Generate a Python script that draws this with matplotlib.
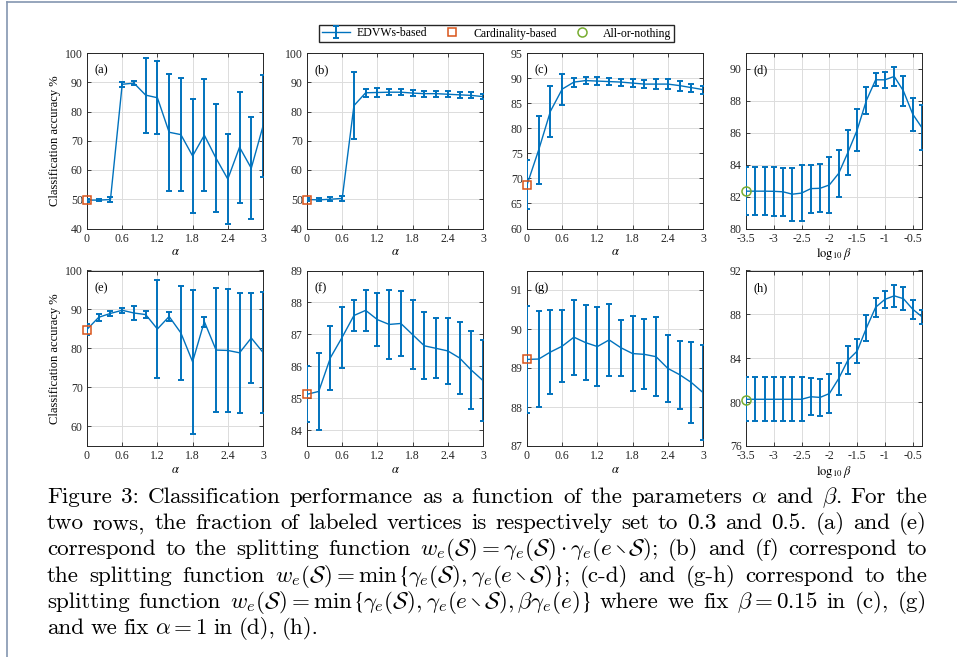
import matplotlib
matplotlib.use("Agg")
import matplotlib.pyplot as plt
from matplotlib.lines import Line2D

plt.rcParams["font.family"] = "Liberation Serif"
plt.rcParams["mathtext.fontset"] = "stix"

W, H = 957, 657
BLUE = "#0072BD"
ORANGE = "#D95319"
GREEN = "#77AC30"

alpha = [0.0, 0.2, 0.4, 0.6, 0.8, 1.0, 1.2, 1.4, 1.6, 1.8, 2.0, 2.2, 2.4, 2.6, 2.8, 3.0]
log_beta = [-3.5, -3.333, -3.167, -3.0, -2.833, -2.667, -2.5, -2.333, -2.167, -2.0,
            -1.833, -1.667, -1.5, -1.333, -1.167, -1.0, -0.833, -0.667, -0.5, -0.333]

# row 1 (fraction 0.3)
a_mean = [49.7, 49.7, 49.9, 89.3, 89.7, 85.6, 84.7, 72.9, 72.1, 64.8, 71.9, 64.0, 56.9, 67.8, 60.6, 75.0]
a_err = [0.5, 0.3, 0.7, 0.8, 0.7, 12.8, 12.4, 20.0, 19.4, 19.5, 19.2, 18.5, 15.3, 19.0, 17.5, 17.5]
b_mean = [49.9, 49.8, 50.0, 50.3, 82.0, 86.4, 86.5, 86.6, 86.6, 86.3, 86.1, 86.1, 85.9, 85.7, 85.5, 85.1]
b_err = [0.5, 0.5, 0.6, 0.9, 11.5, 1.3, 1.4, 1.0, 1.0, 0.9, 1.0, 1.0, 1.0, 1.1, 1.0, 0.9]
c_mean = [68.7, 75.7, 83.4, 87.8, 89.2, 89.5, 89.4, 89.3, 89.2, 89.0, 88.8, 88.8, 88.8, 88.5, 88.1, 87.7]
c_err = [4.9, 6.8, 5.1, 3.1, 0.9, 0.7, 0.8, 0.7, 0.7, 0.8, 0.8, 1.0, 1.0, 1.0, 0.8, 0.8]
d_mean = [82.34, 82.34, 82.34, 82.33, 82.3, 82.15, 82.22, 82.5, 82.52, 82.73,
          83.45, 84.76, 86.17, 88.03, 89.32, 89.32, 89.53, 88.62, 87.17, 86.31]
d_err = [1.5, 1.5, 1.5, 1.55, 1.52, 1.65, 1.73, 1.5, 1.5, 1.74,
         1.5, 1.4, 1.29, 0.85, 0.4, 0.5, 0.57, 0.95, 1.03, 1.42]

# row 2 (fraction 0.5)
e_mean = [84.9, 88.0, 89.0, 89.8, 89.1, 88.7, 85.0, 88.2, 84.0, 76.6, 86.9, 79.6, 79.5, 78.9, 82.7, 79.0]
e_err = [1.4, 0.9, 0.55, 0.65, 1.85, 1.0, 12.45, 1.1, 12.1, 18.5, 1.3, 15.8, 15.8, 15.4, 11.6, 15.5]
f_mean = [85.12, 85.21, 86.27, 86.91, 87.59, 87.75, 87.46, 87.31, 87.34, 86.99, 86.64, 86.56, 86.48, 86.26, 85.88, 85.55]
f_err = [0.88, 1.22, 1.0, 0.95, 0.5, 0.65, 0.82, 1.07, 1.03, 1.07, 1.05, 0.94, 1.04, 1.13, 1.23, 1.28]
g_mean = [89.22, 89.23, 89.41, 89.56, 89.79, 89.65, 89.55, 89.72, 89.52, 89.37, 89.35, 89.29, 88.99, 88.83, 88.63, 88.37]
g_err = [1.38, 1.24, 1.07, 0.92, 0.96, 0.97, 1.01, 0.92, 0.72, 0.97, 0.9, 1.02, 0.86, 0.87, 1.04, 1.22]
h_mean = [80.26, 80.26, 80.26, 80.26, 80.26, 80.26, 80.26, 80.49, 80.43, 80.78,
          82.14, 83.82, 84.65, 86.76, 88.65, 89.37, 89.69, 89.43, 88.47, 87.78]
h_err = [2.01, 2.01, 2.01, 2.01, 2.01, 2.01, 2.01, 1.69, 1.66, 1.8,
         1.45, 1.27, 1.1, 1.19, 0.88, 0.78, 1.0, 1.05, 0.85, 0.66]

card_a, card_b, card_c = 49.7, 49.9, 68.6
card_e, card_f, card_g = 84.8, 85.12, 89.22
aon_d, aon_h = 82.33, 80.23

alpha_ticks = [0, 0.6, 1.2, 1.8, 2.4, 3]
alpha_ticklabels = ["0", "0.6", "1.2", "1.8", "2.4", "3"]
beta_ticks = [-3.5, -3, -2.5, -2, -1.5, -1, -0.5]
beta_ticklabels = ["-3.5", "-3", "-2.5", "-2", "-1.5", "-1", "-0.5"]

fig = plt.figure(figsize=(W / 100, H / 100), dpi=100)
fig.patch.set_facecolor("white")

col_left = [87, 307, 527, 746]
row_top = [53, 270.5]
AW, AH = 176, 175.5


def px_axes(l, t):
    return fig.add_axes([l / W, 1 - (t + AH) / H, AW / W, AH / H])


panels = [
    ("(a)", alpha, a_mean, a_err, (40, 100), [40, 50, 60, 70, 80, 90, 100], "card", card_a),
    ("(b)", alpha, b_mean, b_err, (40, 100), [40, 50, 60, 70, 80, 90, 100], "card", card_b),
    ("(c)", alpha, c_mean, c_err, (60, 95), [60, 65, 70, 75, 80, 85, 90, 95], "card", card_c),
    ("(d)", log_beta, d_mean, d_err, (80, 91), [80, 82, 84, 86, 88, 90], "aon", aon_d),
    ("(e)", alpha, e_mean, e_err, (55, 100), [60, 70, 80, 90, 100], "card", card_e),
    ("(f)", alpha, f_mean, f_err, (83.5, 89), [84, 85, 86, 87, 88, 89], "card", card_f),
    ("(g)", alpha, g_mean, g_err, (87, 91.5), [87, 88, 89, 90, 91], "card", card_g),
    ("(h)", log_beta, h_mean, h_err, (76, 92), [76, 80, 84, 88, 92], "aon", aon_h),
]

handles = {}
for i, (lab, xs, ys, es, ylim, yticks, kind, ref) in enumerate(panels):
    ax = px_axes(col_left[i % 4], row_top[i // 4])
    eb = ax.errorbar(xs, ys, yerr=es, color=BLUE, lw=1.0, elinewidth=1.4,
                     capsize=2.3, capthick=1.4, zorder=3)
    handles.setdefault("edvw", eb)
    if kind == "card":
        m, = ax.plot([xs[0]], [ref], ls="none", marker="s", ms=6, mfc="none",
                     mec=ORANGE, mew=1.1, zorder=4, clip_on=False)
        handles.setdefault("card", m)
    else:
        m, = ax.plot([xs[0]], [ref], ls="none", marker="o", ms=6.5, mfc="none",
                     mec=GREEN, mew=1.1, zorder=4, clip_on=False)
        handles.setdefault("aon", m)

    ax.set_ylim(*ylim)
    ax.set_yticks(yticks)
    if xs is alpha:
        ax.set_xlim(0, 3)
        ax.set_xticks(alpha_ticks)
        ax.set_xticklabels(alpha_ticklabels)
        ax.set_xlabel(r"$\alpha$", fontsize=9, labelpad=1)
    else:
        ax.set_xlim(-3.5, -0.333)
        ax.set_xticks(beta_ticks)
        ax.set_xticklabels(beta_ticklabels)
        ax.set_xlabel(r"$\log_{10}\beta$", fontsize=9, labelpad=1)
    if i % 4 == 0:
        ax.set_ylabel("Classification accuracy %", fontsize=9, labelpad=3)

    ax.grid(True, color="#dcdcdc", lw=0.7)
    ax.set_axisbelow(True)
    ax.tick_params(direction="in", top=True, right=True, length=3, width=0.6,
                   labelsize=8.5, pad=3, colors="#262626")
    for s in ax.spines.values():
        s.set_color("#262626")
        s.set_linewidth(0.7)
    ax.text(0.04, 0.9, lab, transform=ax.transAxes, fontsize=9, va="center", ha="left")

fig.legend([handles["edvw"], handles["card"], handles["aon"]],
           ["EDVWs-based", "Cardinality-based", "All-or-nothing"],
           loc="center", bbox_to_anchor=(496.5 / W, 1 - 33.5 / H), ncol=3,
           fontsize=8.5, frameon=True, fancybox=False, edgecolor="#262626",
           framealpha=1, handlelength=2.4, columnspacing=0.9, handletextpad=0.6,
           borderpad=0.25)

# frame of the page snapshot
fig.add_artist(Line2D([7 / W, 7 / W], [0, 1 - 1.5 / H], color="#8496b0", lw=1.2))
fig.add_artist(Line2D([7 / W, 1], [1 - 1.5 / H, 1 - 1.5 / H], color="#8496b0", lw=1.2))

# caption, justified like the LaTeX source ("|" glues pieces of one word)
caption_lines = [
    r"Figure 3: Classification performance as a function of the parameters $\alpha$ and $\beta$. For the",
    r"two rows, the fraction of labeled vertices is respectively set to 0.3 and 0.5. (a) and (e)",
    r"correspond to the splitting function $w_e(\mathcal{S})=\gamma_e(\mathcal{S})\cdot\gamma_e(e\setminus\mathcal{S})$; (b) and (f) correspond to",
    r"the splitting function $w_e(\mathcal{S})=\min$|$\{$|$\gamma_e(\mathcal{S}),\gamma_e(e\setminus\mathcal{S})$|$\}$|; (c-d) and (g-h) correspond to the",
    r"splitting function $w_e(\mathcal{S})=\min$|$\{$|$\gamma_e(\mathcal{S}),\gamma_e(e\setminus\mathcal{S}),\beta\gamma_e(e)$|$\}$ where we fix $\beta=0.15$ in (c), (g)",
    r"and we fix $\alpha=1$ in (d), (h).",
]
fs = 16.6
x0, x1 = 47, 927
fig.canvas.draw()
r = fig.canvas.get_renderer()
for i, line in enumerate(caption_lines):
    words = line.split(" ")
    yb = 1 - (503 + i * 26.2) / H
    word_parts = []
    for w in words:
        parts = []
        for p in w.split("|"):
            mf = "stix" if p in (r"$\{$", r"$\}$") else "cm"
            t = fig.text(0, yb, p, fontsize=fs, family="cmr10", math_fontfamily=mf,
                         va="baseline", ha="left")
            parts.append((t, t.get_window_extent(r).width))
        word_parts.append(parts)
    widths = [sum(pw for _, pw in parts) for parts in word_parts]
    if i < len(caption_lines) - 1:
        gap = (x1 - x0 - sum(widths)) / (len(words) - 1)
    else:
        gap = fs * 100 / 72 * 0.27
    x = x0
    for parts, w in zip(word_parts, widths):
        xp = x
        for t, pw in parts:
            t.set_x(xp / W)
            xp += pw
        x += w + gap

fig.savefig("out.png", dpi=100, facecolor="white")
